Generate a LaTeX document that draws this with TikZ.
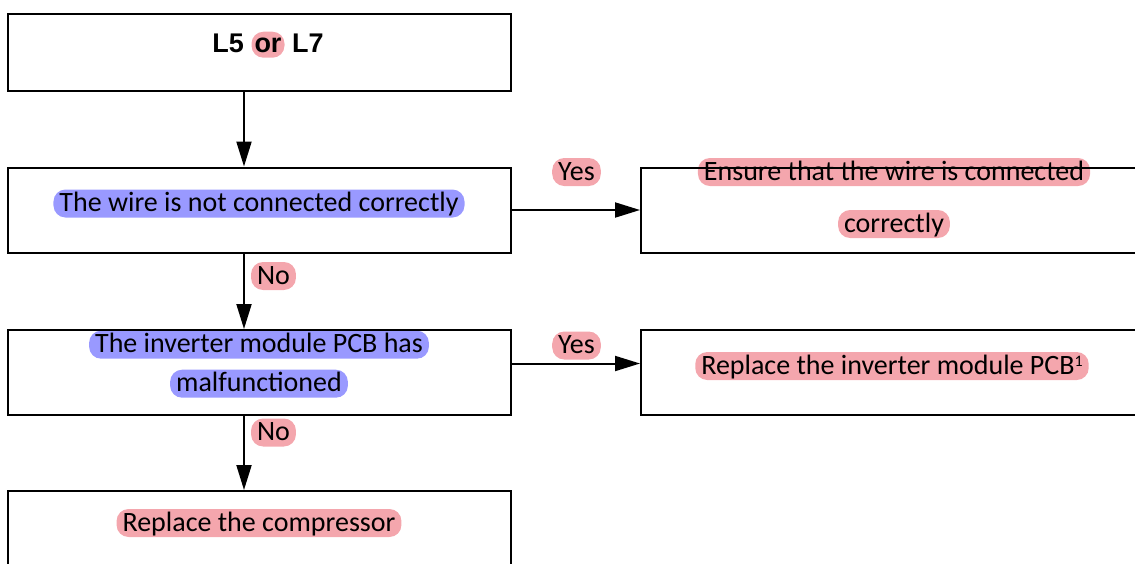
\documentclass[tikz,border=0pt]{standalone}
\usepackage{fontspec}
\setmainfont{Carlito}
\newfontfamily\hdfont{Liberation Sans}
\usetikzlibrary{arrows.meta,positioning,backgrounds}
\definecolor{fcPink}{HTML}{F4A6AD}
\definecolor{fcBlue}{HTML}{9999FF}
% marker pen behind a run of text
\newcommand{\fcmark}[3][]{\tikz[baseline=(m.base)]\node[hlbox, fill=#2, #1] (m) {#3};}

\begin{document}
\begin{tikzpicture}[x=1pt, y=-1pt,
  fbox/.style={draw, line width=2pt, minimum width=503pt, minimum height=85pt, inner sep=0pt},
  arr/.style={-{Triangle[length=25pt, width=15pt]}, line width=2pt},
  txt/.style={font=\fontsize{28}{28}\selectfont, inner sep=0pt, align=center},
  hlbox/.style={rounded corners=12pt, inner xsep=6pt, inner ysep=0pt, text height=22pt, text depth=6pt}]
\useasboundingbox (0,0) rectangle (1135,563);

% ── boxes
\node[fbox, minimum height=77pt] (start) at (259.5,52.5) {};
\node[fbox] (wire) at (259.5,210) {};
\node[fbox] (fixwire) at (892.5,210) {};
\node[fbox] (inv) at (259.5,372.5) {};
\node[fbox] (pcb) at (892.5,372.5) {};
\node[fbox] (comp) at (259.5,533.5) {};

% ── texts sit under the box lines
\begin{scope}[on background layer]
\node[txt, font=\hdfont\bfseries\fontsize{27}{27}\selectfont] (startT) at (268,44.7)
  {L5 \fcmark[text height=21pt, text depth=5pt, inner xsep=3pt]{fcPink}{or} L7};
\node[txt] (wireT) at (259,203.5) {\fcmark{fcBlue}{The wire is not connected correctly}};
\node[txt] (fixwireT) at (894,198) {\fcmark{fcPink}{Ensure that the wire is connected}\\[24pt]\fcmark{fcPink}{correctly}};
\node[txt] (invT) at (259,364.2) {\fcmark{fcBlue}{The inverter module PCB has}\\[11pt]\fcmark{fcBlue}{malfunctioned}};
\node[txt] (pcbT) at (892,366) {\fcmark{fcPink}{Replace the inverter module PCB\raisebox{8pt}{\fontsize{16}{16}\selectfont 1}}};
\node[txt] (compT) at (259,523) {\fcmark{fcPink}{Replace the compressor}};
\node[txt] (yes1) at (576.5,172) {\fcmark{fcPink}{Yes}};
\node[txt] (yes2) at (576.5,345.5) {\fcmark{fcPink}{Yes}};
\node[txt] (no1) at (273.5,276) {\fcmark{fcPink}{No}};
\node[txt] (no2) at (273.5,432.5) {\fcmark{fcPink}{No}};
\end{scope}

% ── connectors
\coordinate (spine) at (244,0);
\coordinate (yesrow) at (0,363.5);
\draw[arr] (start.south -| spine) -- (wire.north -| spine);
\draw[arr] (wire.south -| spine) -- (inv.north -| spine);
\draw[arr] (inv.south -| spine) -- (comp.north -| spine);
\draw[arr] (wire.east) -- (fixwire.west);
\draw[arr] (inv.east |- yesrow) -- (pcb.west |- yesrow);
\end{tikzpicture}
\end{document}
